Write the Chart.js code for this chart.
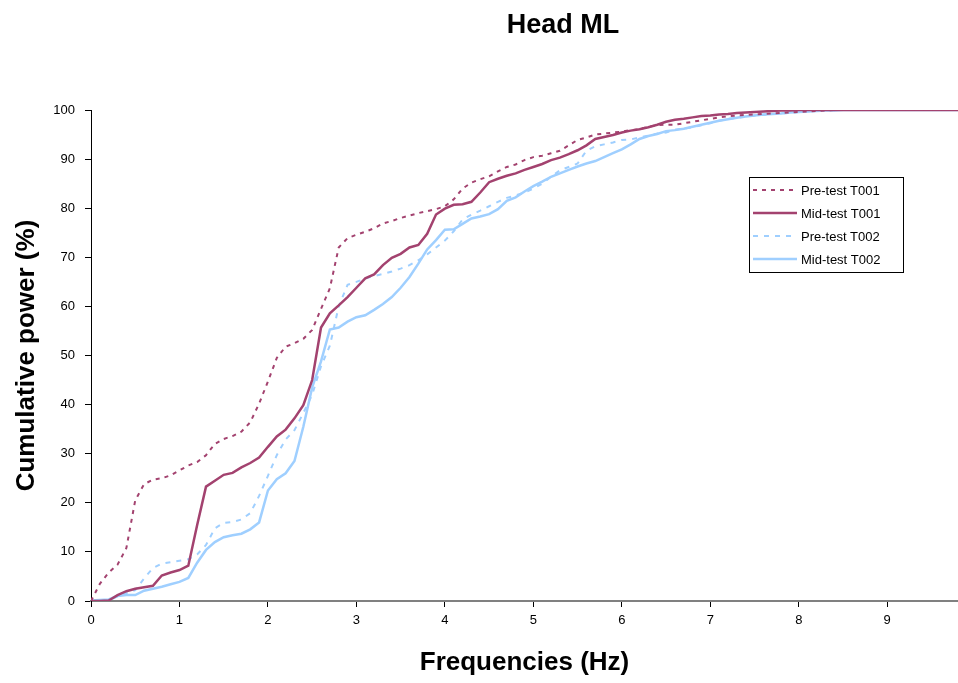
<!DOCTYPE html>
<html>
<head>
<meta charset="utf-8">
<script src="https://cdn.jsdelivr.net/npm/chart.js@4.4.1/dist/chart.umd.min.js"></script>
<style>
  html, body { margin: 0; padding: 0; background: #fff; }
  #wrap { position: relative; width: 958px; height: 683px; }
</style>
</head>
<body>
<div id="wrap"><canvas id="myChart" width="958" height="683"></canvas></div>
<script>
// frequencies (Hz)
const freqs = [
  0.0,0.1,0.2,0.3,0.4,0.5,0.6,0.7,0.8,0.9,
  1.0,1.1,1.2,1.3,1.4,1.5,1.6,1.7,1.8,1.9,
  2.0,2.1,2.2,2.3,2.4,2.5,2.6,2.7,2.8,2.9,
  3.0,3.1,3.2,3.3,3.4,3.5,3.6,3.7,3.8,3.9,
  4.0,4.1,4.2,4.3,4.4,4.5,4.6,4.7,4.8,4.9,
  5.0,5.1,5.2,5.3,5.4,5.5,5.6,5.7,5.8,5.9,
  6.0,6.1,6.2,6.3,6.4,6.5,6.6,6.7,6.8,6.9,
  7.0,7.1,7.2,7.3,7.4,7.5,7.6,7.7,7.8,7.9,
  8.0,8.1,8.2,8.3,8.4,8.5,8.6,8.7,8.8,8.9,
  9.0,9.1,9.2,9.3,9.4,9.5,9.6,9.7,9.8
];

const preT001 = [
  0,3.5,5.8,7.4,10.8,20.5,23.8,24.7,25.0,25.6,
  26.6,27.6,28.3,29.7,32.0,33.0,33.6,34.5,36.4,40.2,
  44.7,49.5,51.8,52.5,53.4,55.2,59.5,63.7,72.0,73.9,
  74.6,75.2,75.9,76.9,77.4,78.0,78.5,79.0,79.4,79.8,
  80.4,81.8,84.0,85.2,85.9,86.5,87.5,88.4,88.9,89.8,
  90.4,90.7,91.2,91.7,92.8,93.9,94.4,95.0,95.2,95.4,
  95.6,95.9,96.1,96.6,96.9,97.0,97.0,97.3,97.6,97.9,
  98.2,98.5,98.7,98.9,99.0,99.1,99.2,99.3,99.4,99.5,
  99.6,99.7,99.8,99.9,100,100,100,100,100,100,
  100,100,100,100,100,100,100,100,100
];

const midT001 = [
  0,0,0.1,1.2,2.0,2.5,2.8,3.1,5.2,5.8,
  6.3,7.2,15.5,23.3,24.5,25.7,26.1,27.2,28.1,29.2,
  31.4,33.5,34.9,37.2,39.9,45.0,55.7,58.6,60.2,61.9,
  63.8,65.7,66.5,68.4,69.9,70.7,72.0,72.5,74.8,78.7,
  79.9,80.7,80.8,81.3,83.2,85.3,86.0,86.6,87.1,87.8,
  88.4,89.0,89.8,90.3,91.0,91.8,92.8,94.1,94.5,94.9,
  95.4,95.8,96.1,96.5,97.0,97.6,98.0,98.2,98.5,98.8,
  98.9,99.1,99.2,99.4,99.5,99.6,99.7,99.8,99.9,99.9,
  100,100,100,100,100,100,100,100,100,100,
  100,100,100,100,100,100,100,100,100
];

const preT002 = [
  0,0,0.2,0.9,1.6,2.2,4.6,6.7,7.6,7.9,
  8.2,8.5,9.5,11.4,14.8,15.9,16.1,16.6,17.9,21.4,
  25.5,29.7,32.9,34.8,38.3,42.0,47.8,52.0,60.0,64.4,
  65.0,65.7,66.2,66.6,67.1,67.7,68.4,69.4,70.6,72.0,
  73.4,75.3,77.7,78.7,79.5,80.4,81.3,82.1,82.6,83.2,
  84.0,85.0,86.4,87.7,88.4,89.1,91.7,92.6,93.0,93.4,
  93.9,94.0,94.4,94.8,95.2,95.4,96.0,96.2,96.5,96.9,
  97.3,97.8,98.2,98.4,98.6,98.9,99.0,99.2,99.3,99.4,
  99.6,99.7,99.8,99.9,100,100,100,100,100,100,
  100,100,100,100,100,100,100,100,100
];

const midT002 = [
  0.1,0.2,0.3,1.0,1.2,1.2,2.1,2.5,2.9,3.4,
  3.9,4.7,7.8,10.4,12.0,13.0,13.4,13.7,14.6,16.0,
  22.5,24.8,26.0,28.5,35.5,43.5,48.8,55.3,55.7,56.9,
  57.8,58.2,59.3,60.5,61.9,63.8,66.0,68.7,71.6,73.5,
  75.6,75.7,76.8,77.9,78.3,78.8,79.8,81.5,82.2,83.4,
  84.5,85.4,86.4,87.1,87.8,88.5,89.1,89.6,90.4,91.2,
  92.0,93.0,94.1,94.7,95.1,95.7,95.9,96.2,96.6,97.0,
  97.4,97.8,98.1,98.4,98.7,98.9,99.1,99.2,99.3,99.5,
  99.6,99.7,99.8,99.9,99.9,100,100,100,100,100,
  100,100,100,100,100,100,100,100,100
];

const seriesNames = ['Pre-test T001', 'Mid-test T001', 'Pre-test T002', 'Mid-test T002'];
const chartTitle = 'Head ML';

const plum = '#a3426f';
const sky = '#9fcfff';

function pts(vals) {
  return vals.map((v, i) => ({ x: freqs[i], y: v }));
}

/* titulo y leyenda dibujados a mano ------------------------------------ */
const extras = {
  id: 'extras',
  afterDraw(chart) {
    const ctx = chart.ctx;
    const area = chart.chartArea;
    ctx.save();
    ctx.fillStyle = '#000';
    ctx.font = 'bold 27px "Liberation Sans", Arial, sans-serif';
    ctx.textAlign = 'center';
    ctx.textBaseline = 'middle';
    ctx.fillText(chartTitle, area.left + 472, 26);

    // legend box
    const bx = area.left + 658, by = area.top + 67, bw = 154, bh = 95;
    ctx.fillStyle = '#fff';
    ctx.fillRect(bx, by, bw, bh);
    ctx.strokeStyle = '#000';
    ctx.lineWidth = 1;
    ctx.strokeRect(bx + 0.5, by + 0.5, bw, bh);
    ctx.font = '13px "Liberation Sans", Arial, sans-serif';
    ctx.textAlign = 'left';
    chart.data.datasets.forEach((ds, i) => {
      const yy = by + 13 + i * 23;
      ctx.beginPath();
      ctx.strokeStyle = ds.borderColor;
      ctx.lineWidth = ds.borderWidth;
      ctx.setLineDash(ds.borderDash || []);
      ctx.moveTo(bx + 4, yy);
      ctx.lineTo(bx + 48, yy);
      ctx.stroke();
      ctx.setLineDash([]);
      ctx.fillStyle = '#000';
      ctx.fillText(ds.label, bx + 52, yy + 1);
    });
    ctx.restore();
  }
};

const config = {
  type: 'line',
  data: {
    datasets: [
      { label: seriesNames[0], data: pts(preT001), borderColor: plum, borderWidth: 2, borderDash: [4, 5] },
      { label: seriesNames[1], data: pts(midT001), borderColor: plum, borderWidth: 2.5 },
      { label: seriesNames[2], data: pts(preT002), borderColor: sky, borderWidth: 2, borderDash: [5, 6] },
      { label: seriesNames[3], data: pts(midT002), borderColor: sky, borderWidth: 2.5 }
    ]
  },
  options: {
    animation: false,
    responsive: false,
    maintainAspectRatio: false,
    layout: { padding: { top: 110, right: 0, left: 0, bottom: 0 } },
    elements: { point: { radius: 0 }, line: { tension: 0 } },
    plugins: {
      legend: { display: false },
      title: { display: false },
      tooltip: { enabled: false }
    },
    scales: {
      x: {
        type: 'linear',
        min: 0,
        max: 9.8,
        afterFit: (s) => { s.height = 82; },
        border: { color: '#808080', width: 2 },
        grid: { drawOnChartArea: false, drawTicks: true, tickLength: 6, color: '#000' },
        ticks: {
          stepSize: 1,
          includeBounds: false,
          color: '#000',
          padding: 6,
          font: { family: '"Liberation Sans", Arial, sans-serif', size: 13 }
        },
        title: {
          display: true,
          text: 'Frequencies (Hz)',
          color: '#000',
          padding: { top: 10, bottom: 5 },
          font: { family: '"Liberation Sans", Arial, sans-serif', size: 26, weight: 'bold' }
        }
      },
      y: {
        min: 0,
        max: 100,
        afterFit: (s) => { s.width = 91; },
        border: { color: '#000', width: 1 },
        grid: { drawOnChartArea: false, drawTicks: true, tickLength: 6, color: '#000' },
        ticks: {
          stepSize: 10,
          color: '#000',
          padding: 10,
          font: { family: '"Liberation Sans", Arial, sans-serif', size: 13 }
        },
        title: {
          display: true,
          text: 'Cumulative power (%)',
          color: '#000',
          padding: { top: 11, bottom: 4 },
          font: { family: '"Liberation Sans", Arial, sans-serif', size: 26, weight: 'bold' }
        }
      }
    }
  },
  plugins: [extras]
};

let myChart = new Chart(document.getElementById('myChart'), config);
</script>
</body>
</html>
